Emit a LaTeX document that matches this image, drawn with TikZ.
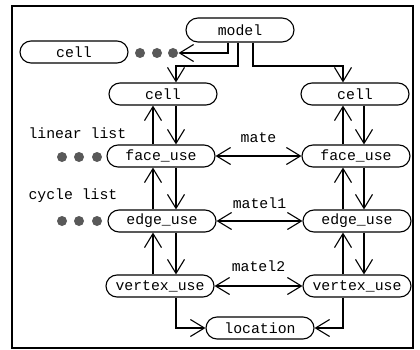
\documentclass[tikz,border=0pt]{standalone}
\usepackage{fontspec}
\newfontfamily\monof{Liberation Mono}
\usetikzlibrary{arrows.meta}
\begin{document}
\begin{tikzpicture}[x=1pt,y=-1pt,line width=1.1pt,
  >={Straight Barb[length=14pt,width=17pt]},
  nd/.style={draw, rounded corners=11pt, minimum width=108pt, minimum height=22pt, inner sep=0pt, font=\monof\fontsize{14.8}{16}\selectfont},
  lbl/.style={inner sep=0pt, font=\monof\fontsize{14.8}{16}\selectfont},
  dot/.style={circle, fill=black!65, draw=none, minimum size=10pt, inner sep=0pt}]
\useasboundingbox (0,0) rectangle (420,350);
\draw[line width=1.4pt] (12,6) rectangle (413,348);
% nodes
\node[nd, minimum height=24pt, rounded corners=12pt] (model) at (240,30) {model};
\node[nd] (cell0) at (74,52) {cell};
\node[nd] (cell1) at (163,94) {cell};
\node[nd] (cell2) at (355,94) {cell};
\node[nd] (face1) at (161,156) {face\_use};
\node[nd] (face2) at (356,156) {face\_use};
\node[nd] (edge1) at (162,221) {edge\_use};
\node[nd] (edge2) at (357,221) {edge\_use};
\node[nd] (vert1) at (160,286) {vertex\_use};
\node[nd] (vert2) at (357,286) {vertex\_use};
\node[nd] (loc) at (260,328) {location};
% dots
\node[dot] (a1) at (140,53) {};
\node[dot] (a2) at (157,53) {};
\node[dot] (a3) at (173,53) {};
\node[dot] (b1) at (62,157) {};
\node[dot] (b2) at (79,157) {};
\node[dot] (b3) at (97,157) {};
\node[dot] (c1) at (62,221) {};
\node[dot] (c2) at (79,221) {};
\node[dot] (c3) at (97,221) {};
% labels
\node[lbl, anchor=west] (ll) at (28,133) {linear list};
\node[lbl, anchor=west] (cl) at (28,196) {cycle list};
% helper coordinates
\coordinate (xA) at (228,0);
\coordinate (xB) at (238,0);
\coordinate (xC) at (253,0);
\coordinate (yM) at (0,66);
\coordinate (Lup) at (153,0);
\coordinate (Ldn) at (176,0);
\coordinate (Rup) at (343,0);
\coordinate (Rdn) at (364,0);
% model connectors
\draw[->] (model.south -| xA) |- (a3.east);
\draw[->] (model.south -| xB) -- (yM -| xB) -| (cell1.north -| Ldn);
\draw[->] (model.south -| xC) -- (yM -| xC) -| (cell2.north -| Rup);
% vertical pairs
\foreach \u/\l in {cell1/face1, face1/edge1, edge1/vert1}{
  \draw[->] (\l.north -| Lup) -- (\u.south -| Lup);
  \draw[->] (\u.south -| Ldn) -- (\l.north -| Ldn);
}
\foreach \u/\l in {cell2/face2, face2/edge2, edge2/vert2}{
  \draw[->] (\l.north -| Rup) -- (\u.south -| Rup);
  \draw[->] (\u.south -| Rdn) -- (\l.north -| Rdn);
}
% mates
\draw[<->] (face1) -- (face2) node[lbl, midway, yshift=18pt] {mate};
\draw[<->] (edge1) -- (edge2) node[lbl, midway, yshift=18pt] {matel1};
\draw[<->] (vert1) -- (vert2) node[lbl, midway, yshift=20pt] {matel2};
% location
\draw[->] (vert1.south -| Ldn) |- (loc.west);
\draw[->] (vert2.south -| Rup) |- (loc.east);
\end{tikzpicture}
\end{document}
